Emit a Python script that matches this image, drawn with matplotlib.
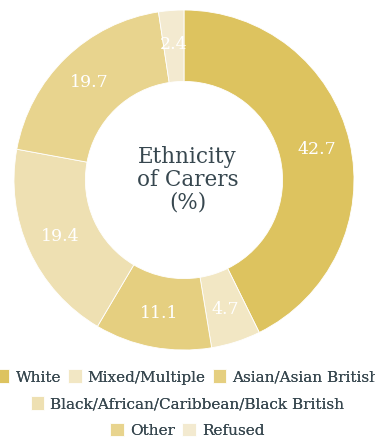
import matplotlib
matplotlib.use('Agg')
import matplotlib.pyplot as plt

# ethnicity breakdown of carers, in percent
groups = ['White', 'Mixed/Multiple', 'Asian/Asian British',
          'Black/African/Caribbean/Black British', 'Other', 'Refused']
shares = [42.7, 4.7, 11.1, 19.4, 19.7, 2.4]
colours = ['#ddc35f', '#f2e7c4', '#e5cf80', '#eee0b2', '#e8d48e', '#f3ead0']

# legend rows, as index lists into groups
legend_rows = [[0, 1, 2], [3], [4, 5]]

text_colour = '#37474f'
plt.rcParams['font.family'] = ['DejaVu Serif']

fig = plt.figure(figsize=(3.75, 4.43), dpi=100)
ax = fig.add_axes([0.0373, 0.2099, 0.9067, 0.7675])

wedges, _, autotexts = ax.pie(
    shares, colors=colours, startangle=90, counterclock=False,
    radius=1.0, autopct=lambda p: f'{p:.1f}', pctdistance=0.8,
    wedgeprops=dict(width=0.42, edgecolor='white', linewidth=0.6),
    textprops=dict(color='white', fontsize=12.5))
ax.set_xlim(-1, 1)
ax.set_ylim(-1, 1)
ax.set_aspect('equal')
ax.axis('off')

ax.text(0.02, 0, 'Ethnicity\nof Carers\n(%)', ha='center', va='center',
        fontsize=15.5, color=text_colour, linespacing=1.05)

row_y = [0.149, 0.088, 0.029]
for row, y in zip(legend_rows, row_y):
    leg = fig.legend([wedges[i] for i in row], [groups[i] for i in row],
                     loc='center', bbox_to_anchor=(0.5, y), ncol=len(row),
                     frameon=False, fontsize=11, handlelength=0.9,
                     handleheight=1.0, handletextpad=0.4, columnspacing=0.45,
                     borderpad=0, borderaxespad=0)
    for t in leg.get_texts():
        t.set_color(text_colour)
    fig.add_artist(leg)

fig.savefig('out.png', dpi=100)
